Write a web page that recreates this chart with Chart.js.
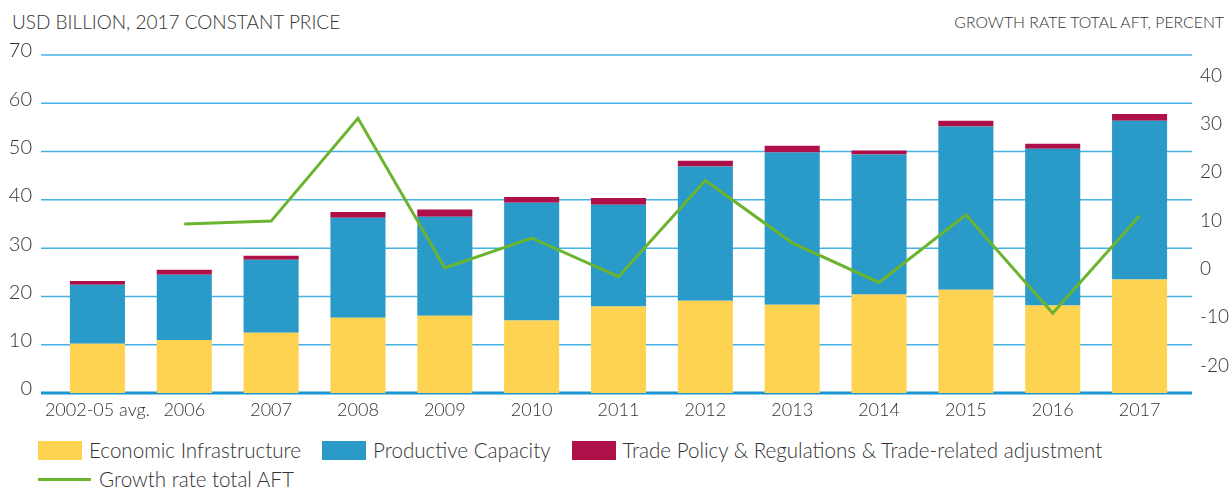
<!DOCTYPE html>
<html>
<head>
<meta charset="utf-8">
<script src="https://cdn.jsdelivr.net/npm/chart.js@4.4.0/dist/chart.umd.min.js"></script>
<style>
  body { margin: 0; background: #fff; font-family: Lato, sans-serif; color: #333; }
  #wrap { position: relative; width: 1229px; height: 487px; overflow: hidden; }
  #chartBox { position: absolute; left: 0; top: 0; width: 1229px; height: 428px; }
  .ttl { position: absolute; top: 10px; font-size: 19px; line-height: 24px; white-space: nowrap; font-weight: 300; }
  #ttlLeft { left: 12px; }
  #ttlRight { right: 5px; font-size: 15.8px; }
  .lgRow { position: absolute; left: 38px; display: flex; align-items: center; font-size: 20.6px; line-height: 24px; white-space: nowrap; font-weight: 300; }
  .lgItem { display: flex; align-items: center; margin-right: 21px; }
  .lgBox { width: 44px; height: 19px; margin-right: 7px; }
  .lgLine { width: 53px; height: 3px; margin-right: 8px; }
</style>
</head>
<body>
<div id="wrap">
  <div class="ttl" id="ttlLeft">USD BILLION, 2017 CONSTANT PRICE</div>
  <div class="ttl" id="ttlRight">GROWTH RATE TOTAL AFT, PERCENT</div>
  <div id="chartBox"><canvas id="chart"></canvas></div>
  <div class="lgRow" id="lgRow1" style="top:438px"></div>
  <div class="lgRow" id="lgRow2" style="top:467px"></div>
</div>
<script>
const categories = ['2002-05 avg.', '2006', '2007', '2008', '2009', '2010', '2011', '2012', '2013', '2014', '2015', '2016', '2017'];
const economicInfra = [10.2, 11.0, 12.5, 15.6, 16.0, 15.0, 17.9, 19.1, 18.3, 20.4, 21.4, 18.1, 23.5];
const productiveCap = [12.2, 13.5, 15.1, 20.7, 20.5, 24.4, 21.1, 27.8, 31.5, 29.0, 33.8, 32.5, 32.9];
const tradePolicy = [0.8, 1.0, 0.8, 1.2, 1.5, 1.2, 1.4, 1.2, 1.4, 0.8, 1.2, 1.0, 1.4];
const growthRate = [null, 9.3, 9.9, 31.2, 0.2, 6.4, -1.6, 18.3, 5.4, -2.8, 11.2, -9.2, 11.0];
const leftTicks = [0, 10, 20, 30, 40, 50, 60, 70];
const rightTicks = [-20, -10, 0, 10, 20, 30, 40];

const YELLOW = '#fed352';
const BLUE = '#2a9ac8';
const RED = '#b0104a';
const GREEN = '#6ab42e';
const TXT = '#333333';
const FONT = 'Lato, sans-serif';

// horizontal grid lines run a little wider than the plot area
const gridExt = {
  id: 'gridExt',
  beforeDatasetsDraw(chart) {
    const ctx = chart.ctx;
    const y = chart.scales.y;
    ctx.save();
    y.ticks.forEach(t => {
      const py = y.getPixelForValue(t.value);
      ctx.beginPath();
      if (t.value === 0) {
        ctx.lineWidth = 3;
        ctx.strokeStyle = '#1b96d3';
      } else {
        ctx.lineWidth = 1.5;
        ctx.strokeStyle = '#45b2e4';
      }
      ctx.moveTo(41, py);
      ctx.lineTo(1192, py);
      ctx.stroke();
    });
    ctx.restore();
  }
};

const chart = new Chart(document.getElementById('chart'), {
  data: {
    labels: categories,
    datasets: [
      { type: 'line', label: 'Growth rate total AFT', data: growthRate, yAxisID: 'y1',
        borderColor: GREEN, backgroundColor: GREEN, borderWidth: 3, pointRadius: 0, tension: 0, order: 0 },
      { type: 'bar', label: 'Economic Infrastructure', data: economicInfra, backgroundColor: YELLOW, order: 1 },
      { type: 'bar', label: 'Productive Capacity', data: productiveCap, backgroundColor: BLUE, order: 1 },
      { type: 'bar', label: 'Trade Policy & Regulations & Trade-related adjustment', data: tradePolicy, backgroundColor: RED, order: 1 }
    ]
  },
  options: {
    responsive: true,
    maintainAspectRatio: false,
    animation: false,
    datasets: { bar: { categoryPercentage: 1, barPercentage: 0.634 } },
    layout: { padding: { top: 55, left: 0, right: 0, bottom: 0 } },
    plugins: { legend: { display: false }, tooltip: { enabled: false } },
    scales: {
      x: {
        stacked: true,
        grid: { display: false, drawTicks: false },
        border: { display: false },
        ticks: { color: TXT, font: { family: FONT, size: 18, weight: 300 }, padding: 6, maxRotation: 0, autoSkip: false },
        afterFit: s => { s.height = 35; }
      },
      y: {
        stacked: true,
        min: 0, max: 70,
        grid: { display: false },
        border: { display: false },
        ticks: { color: TXT, font: { family: FONT, size: 20, weight: 300 }, padding: 14, labelOffset: -4 },
        afterBuildTicks: a => { a.ticks = leftTicks.map(v => ({ value: v })); },
        afterFit: s => { s.width = 54; }
      },
      y1: {
        position: 'right',
        min: -25.7, max: 44.3,
        grid: { display: false },
        border: { display: false },
        ticks: { color: TXT, font: { family: FONT, size: 19, weight: 300 }, padding: 9 },
        afterBuildTicks: a => { a.ticks = rightTicks.map(v => ({ value: v })); },
        afterFit: s => { s.width = 46; }
      }
    }
  },
  plugins: [gridExt]
});

// legend, built from the chart's own datasets
const rows = [document.getElementById('lgRow1'), document.getElementById('lgRow2')];
chart.data.datasets.forEach(ds => {
  const item = document.createElement('div');
  item.className = 'lgItem';
  const mark = document.createElement('span');
  if (ds.type === 'line') {
    mark.className = 'lgLine';
    mark.style.background = ds.borderColor;
  } else {
    mark.className = 'lgBox';
    mark.style.background = ds.backgroundColor;
  }
  const txt = document.createElement('span');
  txt.textContent = ds.label;
  item.appendChild(mark);
  item.appendChild(txt);
  (ds.type === 'line' ? rows[1] : rows[0]).appendChild(item);
});
</script>
</body>
</html>
